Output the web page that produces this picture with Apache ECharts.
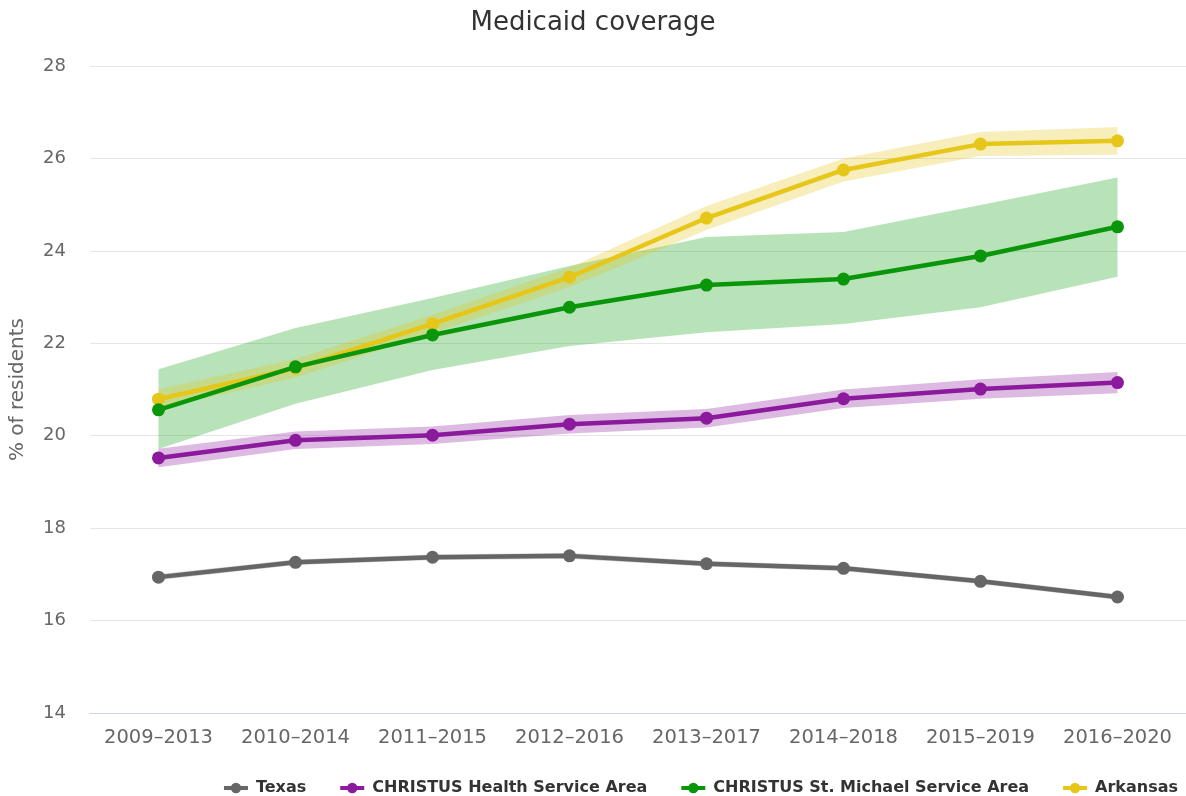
<!DOCTYPE html>
<html>
<head>
<meta charset="utf-8">
<script src="https://cdn.jsdelivr.net/npm/echarts@6/dist/echarts.min.js"></script>
<style>html,body{margin:0;padding:0;background:#fff}#c{width:1186px;height:796px}</style>
</head>
<body>
<div id="c"></div>
<script>
const categories = ['2009–2013','2010–2014','2011–2015','2012–2016','2013–2017','2014–2018','2015–2019','2016–2020'];
const yTicks = [14,16,18,20,22,24,26,28];

const texas      = [16.94,17.26,17.37,17.40,17.23,17.13,16.85,16.51];
const texasLow   = [16.88,17.20,17.31,17.34,17.17,17.07,16.79,16.45];
const texasHigh  = [17.00,17.32,17.43,17.46,17.29,17.19,16.91,16.57];

const health     = [19.52,19.90,20.01,20.25,20.38,20.80,21.01,21.15];
const healthLow  = [19.32,19.71,19.82,20.05,20.18,20.60,20.80,20.92];
const healthHigh = [19.72,20.09,20.20,20.45,20.58,21.00,21.22,21.38];

const michael     = [20.56,21.49,22.18,22.78,23.26,23.39,23.89,24.52];
const michaelLow  = [19.71,20.69,21.42,21.94,22.24,22.42,22.78,23.44];
const michaelHigh = [21.44,22.33,22.98,23.67,24.30,24.41,24.99,25.59];

const arkansas     = [20.79,21.46,22.42,23.43,24.71,25.75,26.31,26.38];
const arkansasLow  = [20.58,21.26,22.22,23.22,24.45,25.50,26.05,26.08];
const arkansasHigh = [21.00,21.66,22.62,23.64,24.97,26.00,26.57,26.68];

const seriesDefs = [
  {name:'Texas', data:texas, low:texasLow, high:texasHigh, color:'#666666', band:'rgba(102,102,102,0.3)', z:3},
  {name:'CHRISTUS Health Service Area', data:health, low:healthLow, high:healthHigh, color:'#8b1a9c', band:'rgba(139,26,156,0.3)', z:3},
  {name:'CHRISTUS St. Michael Service Area', data:michael, low:michaelLow, high:michaelHigh, color:'#0a960a', band:'rgba(20,160,20,0.3)', z:5},
  {name:'Arkansas', data:arkansas, low:arkansasLow, high:arkansasHigh, color:'#e6c619', band:'rgba(230,200,30,0.3)', z:4}
];

const FONT = '"DejaVu Sans", sans-serif';
const series = [];
seriesDefs.forEach((d, i) => {
  series.push({
    name: 'band-low-' + i, type: 'line', stack: 'band' + i, data: d.low,
    symbol: 'none', lineStyle: {opacity: 0}, silent: true, z: 1
  });
  series.push({
    name: 'band-range-' + i, type: 'line', stack: 'band' + i,
    data: d.high.map((h, k) => +(h - d.low[k]).toFixed(3)),
    symbol: 'none', lineStyle: {opacity: 0}, areaStyle: {color: d.band, opacity: 1},
    silent: true, z: 1
  });
});
seriesDefs.forEach(d => {
  series.push({
    name: d.name, type: 'line', data: d.data, color: d.color,
    symbol: 'circle', symbolSize: 13, showSymbol: true,
    lineStyle: {width: 4.5, color: d.color}, itemStyle: {color: d.color},
    z: d.z
  });
});

const chart = echarts.init(document.getElementById('c'));
chart.setOption({
  animation: false,
  backgroundColor: '#ffffff',
  textStyle: {fontFamily: FONT},
  title: {
    text: 'Medicaid coverage', left: 'center', top: 5,
    textStyle: {fontFamily: FONT, fontSize: 26, fontWeight: 'normal', color: '#333333'}
  },
  legend: {
    data: seriesDefs.map(d => d.name),
    right: 3, top: 775,
    itemWidth: 24, itemHeight: 13, itemGap: 32,
    lineStyle: {width: 4},
    textStyle: {fontFamily: FONT, fontSize: 16, fontWeight: 'bold', color: '#333333', padding: [0,0,0,3]}
  },
  grid: {left: 90, right: -2, top: 66, bottom: 83, containLabel: false},
  xAxis: {
    type: 'category', data: categories, boundaryGap: true,
    axisLine: {lineStyle: {color: '#ccd6eb', width: 1}},
    axisTick: {show: false},
    axisLabel: {fontFamily: FONT, fontSize: 19.5, color: '#666666', margin: 15, interval: 0}
  },
  yAxis: {
    type: 'value', min: yTicks[0], max: yTicks[yTicks.length - 1], interval: 2,
    name: '% of residents', nameLocation: 'middle', nameGap: 62,
    nameTextStyle: {fontFamily: FONT, fontSize: 20, color: '#666666'},
    axisLine: {show: false}, axisTick: {show: false},
    axisLabel: {fontFamily: FONT, fontSize: 18, color: '#666666', margin: 24},
    splitLine: {lineStyle: {color: '#e6e6e6', width: 1}}
  },
  series: series
});
</script>
</body>
</html>
